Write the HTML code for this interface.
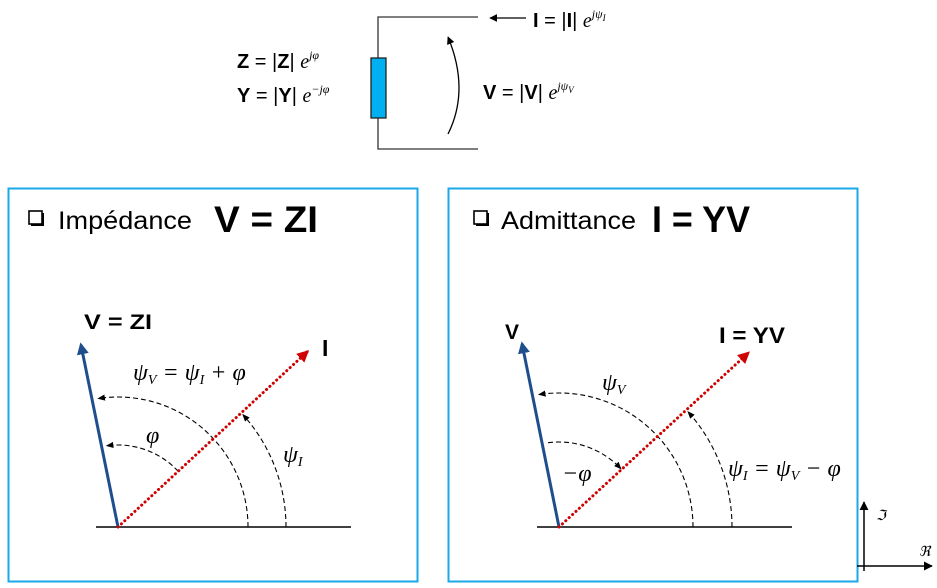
<!DOCTYPE html>
<html><head><meta charset="utf-8"><style>
html,body{margin:0;padding:0;background:#fff;}
svg{display:block;font-family:"Liberation Sans",sans-serif;}
.b{font-weight:bold;}
.it{font-family:"Liberation Serif",serif;font-style:italic;}
</style></head><body>
<svg id="s" width="937" height="588" viewBox="0 0 937 588">
<defs>
<marker id="ab" viewBox="0 0 10 10" refX="8" refY="5" markerWidth="4" markerHeight="4" orient="auto"><path d="M0,0L10,5L0,10z" fill="#1f4e8c"/></marker>
<marker id="ar" viewBox="0 0 10 10" refX="8" refY="5" markerWidth="4" markerHeight="4" orient="auto"><path d="M0,0L10,5L0,10z" fill="#d00000"/></marker>
<marker id="ak" viewBox="0 0 10 10" refX="8" refY="5" markerWidth="7" markerHeight="7" orient="auto"><path d="M0,1L10,5L0,9z" fill="#000"/></marker>
<marker id="ak2" viewBox="0 0 10 10" refX="9" refY="5" markerWidth="6" markerHeight="6" orient="auto"><path d="M0,0L10,5L0,10z" fill="#000"/></marker>
</defs>
<g>
<path d="M478,17H378V58M378,118V149H478" fill="none" stroke="#333" stroke-width="1.3"/>
<rect x="371" y="58" width="15" height="60" fill="#00b0f0" stroke="#222" stroke-width="1.3"/>
<line x1="526" y1="18" x2="490" y2="18" stroke="#000" stroke-width="1.3" marker-end="url(#ak2)"/>
<path d="M448,134Q470,90 448,37" fill="none" stroke="#000" stroke-width="1.3" marker-end="url(#ak2)"/>
<text x="533" y="27" font-size="20"><tspan class="b">I</tspan> = |<tspan class="b">I</tspan>| <tspan class="it">e</tspan><tspan class="it" font-size="12" dy="-9">jψ</tspan><tspan class="it" font-size="9" dy="3">I</tspan></text>
<text x="483" y="99" font-size="20"><tspan class="b">V</tspan> = |<tspan class="b">V</tspan>| <tspan class="it">e</tspan><tspan class="it" font-size="12" dy="-9">jψ</tspan><tspan class="it" font-size="9" dy="3">V</tspan></text>
<text x="237" y="68" font-size="20"><tspan class="b">Z</tspan> = |<tspan class="b">Z</tspan>| <tspan class="it">e</tspan><tspan class="it" font-size="12" dy="-9">jφ</tspan></text>
<text x="237" y="102" font-size="20"><tspan class="b">Y</tspan> = |<tspan class="b">Y</tspan>| <tspan class="it">e</tspan><tspan class="it" font-size="12" dy="-9">−jφ</tspan></text>
</g>
<rect x="8.5" y="188.5" width="409" height="393" fill="none" stroke="#1ba8e8" stroke-width="2"/>
<rect x="448.5" y="188.5" width="409" height="393" fill="none" stroke="#1ba8e8" stroke-width="2"/>
<g>
<rect x="29" y="211" width="13" height="13" fill="none" stroke="#000" stroke-width="1.6"/><path d="M31,225H43V213" stroke="#000" stroke-width="2" fill="none"/>
<text x="58" y="229" font-size="25" textLength="134" lengthAdjust="spacingAndGlyphs">Impédance</text>
<text x="214" y="232" font-size="37" class="b" textLength="104" lengthAdjust="spacingAndGlyphs">V = ZI</text>
</g>
<g>
<rect x="474" y="211" width="13" height="13" fill="none" stroke="#000" stroke-width="1.6"/><path d="M476,225H488V213" stroke="#000" stroke-width="2" fill="none"/>
<text x="501" y="229" font-size="25" textLength="135" lengthAdjust="spacingAndGlyphs">Admittance</text>
<text x="652" y="232" font-size="37" class="b" textLength="98" lengthAdjust="spacingAndGlyphs">I = YV</text>
</g>
<g id="plots"></g>
<text x="84" y="329" font-size="21" class="b" textLength="68" lengthAdjust="spacingAndGlyphs">V = ZI</text>
<text x="322" y="356" font-size="23" class="b">I</text>
<text x="133" y="380" font-size="24" class="it">ψ<tspan font-size="14" dy="4">V</tspan><tspan dy="-4"> = ψ</tspan><tspan font-size="14" dy="4">I</tspan><tspan dy="-4"> + φ</tspan></text>
<text x="146" y="443" font-size="24" class="it">φ</text>
<text x="283" y="462" font-size="24" class="it">ψ<tspan font-size="14" dy="4">I</tspan></text>
<text x="505" y="339" font-size="21" class="b">V</text>
<text x="719" y="343" font-size="22" class="b" textLength="66" lengthAdjust="spacingAndGlyphs">I = YV</text>
<text x="602" y="390" font-size="24" class="it">ψ<tspan font-size="14" dy="4">V</tspan></text>
<text x="562" y="481" font-size="24" class="it">−φ</text>
<text x="728" y="476" font-size="24" class="it">ψ<tspan font-size="14" dy="4">I</tspan><tspan dy="-4"> = ψ</tspan><tspan font-size="14" dy="4">V</tspan><tspan dy="-4"> − φ</tspan></text>
<g>
<line x1="864" y1="571" x2="864" y2="502" stroke="#000" stroke-width="1.5" marker-end="url(#ak2)"/>
<line x1="857" y1="566" x2="932" y2="566" stroke="#000" stroke-width="1.5" marker-end="url(#ak2)"/>
<text x="876" y="520" font-size="14" class="it">ℑ</text>
<text x="919" y="556" font-size="14" class="it">ℜ</text>
</g>
</svg>
<script>
const panels=["impedance","admittance"];
const originX=[118,559];
const vAngle=[101.5,101.4];
const iAngle=[42.8,42.6];
const vLen=[186,187];
const iLen=[258,257];
const arcPsiV=[130,134];
const arcPsiI=[168,173];
const arcPhi=[82,85];
const NS="http://www.w3.org/2000/svg";
const g=document.getElementById('plots');
const oy=527;
function pt(ox,r,a){const t=a*Math.PI/180;return [ox+r*Math.cos(t),oy-r*Math.sin(t)];}
function mk(tag,at){const e=document.createElementNS(NS,tag);for(const k in at)e.setAttribute(k,at[k]);g.appendChild(e);return e;}
function arc(ox,r,a0,a1){const p0=pt(ox,r,a0),p1=pt(ox,r,a1);
 return mk('path',{d:`M${p0[0]},${p0[1]}A${r},${r} 0 0 ${a1>a0?0:1} ${p1[0]},${p1[1]}`,fill:'none',stroke:'#000','stroke-width':1.1,'stroke-dasharray':'5,3','marker-end':'url(#ak)'});}
panels.forEach((p,i)=>{
 const ox=originX[i];
 let e=mk('line',{x1:ox-22,y1:oy,x2:ox+233,y2:oy,stroke:'#000','stroke-width':1.6});
 
 
 e=arc(ox,arcPsiV[i],0,vAngle[i]-3);
 
 
 e=arc(ox,arcPsiI[i],0,iAngle[i]-1);
 
 
 e= i==0? arc(ox,arcPhi[i],iAngle[i],vAngle[i]-4): arc(ox,arcPhi[i],vAngle[i]-4,iAngle[i]+1);
 
 
 const v=pt(ox,vLen[i],vAngle[i]);
 e=mk('line',{x1:ox,y1:oy,x2:v[0],y2:v[1],stroke:'#1f4e8c','stroke-width':3,'marker-end':'url(#ab)'});
 
 
 const c=pt(ox,iLen[i],iAngle[i]);
 e=mk('line',{x1:ox,y1:oy,x2:c[0],y2:c[1],stroke:'#d00000','stroke-width':3,'stroke-dasharray':'0.1,4.5','stroke-linecap':'round','marker-end':'url(#ar)'});
 
 
});
</script>
</body></html>
